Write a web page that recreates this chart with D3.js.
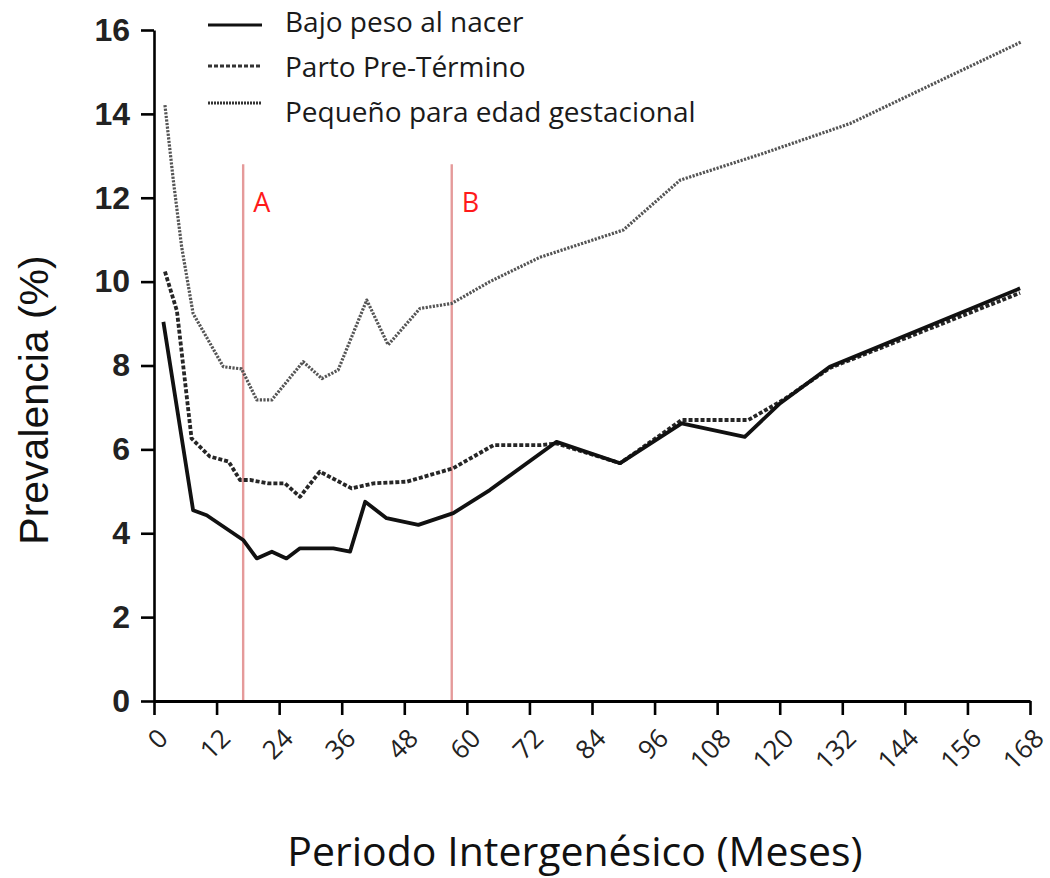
<!DOCTYPE html>
<html>
<head>
<meta charset="utf-8">
<script src="https://cdn.jsdelivr.net/npm/d3@7"></script>
<style>
  html, body { margin: 0; padding: 0; background: #fff; }
  svg { display: block; }
</style>
</head>
<body>
<svg id="chart" width="1050" height="878"></svg>
<script>
// ---- data ----
const xTicks = [0, 12, 24, 36, 48, 60, 72, 84, 96, 108, 120, 132, 144, 156, 168];
const yTicks = [0, 2, 4, 6, 8, 10, 12, 14, 16];

const seriesNames = ["Bajo peso al nacer", "Parto Pre-Término", "Pequeño para edad gestacional"];

const bajoPesoMonths = [1.8, 7.5, 10.1, 17.1, 19.7, 22.6, 25.4, 28.0, 34.4, 37.6, 40.5, 44.6, 50.7, 57.4, 64.4, 77.2, 89.4, 101.2, 113.3, 120.1, 129.6, 166.1];
const bajoPesoValues = [9.04, 4.55, 4.43, 3.84, 3.40, 3.56, 3.40, 3.64, 3.64, 3.56, 4.75, 4.36, 4.20, 4.48, 5.03, 6.18, 5.67, 6.62, 6.30, 7.10, 7.97, 9.84];

const pretermMonths = [2.1, 4.4, 7.2, 10.7, 14.3, 16.5, 18.4, 21.9, 25.1, 28.0, 31.8, 37.9, 42.1, 48.5, 57.4, 65.1, 74.0, 77.2, 89.4, 101.2, 114.0, 120.7, 129.6, 166.1];
const pretermValues = [10.24, 9.30, 6.26, 5.83, 5.71, 5.27, 5.27, 5.19, 5.19, 4.87, 5.47, 5.07, 5.19, 5.23, 5.55, 6.10, 6.10, 6.14, 5.67, 6.70, 6.70, 7.18, 7.94, 9.73];

const pegMonths = [2.1, 3.7, 5.3, 7.5, 13.3, 16.8, 19.7, 22.6, 28.6, 32.2, 35.3, 40.8, 44.9, 51.0, 57.1, 64.4, 74.0, 90.0, 100.9, 116.9, 133.5, 166.4];
const pegValues = [14.21, 12.42, 10.83, 9.24, 7.97, 7.92, 7.18, 7.18, 8.09, 7.69, 7.89, 9.56, 8.49, 9.36, 9.48, 10.00, 10.58, 11.23, 12.42, 13.06, 13.77, 15.72];

const markerLabels = ["A", "B"];
const markerMonths = [17.1, 57.1];

// ---- drawing ----
const svg = d3.select("#chart");
const x = d3.scaleLinear().domain([0, 168]).range([154, 1030]);
const y = d3.scaleLinear().domain([0, 16]).range([701, 30]);

const styles = [
  { stroke: "#111", width: 3.8, dash: null },
  { stroke: "#262626", width: 3.8, dash: "4,2" },
  { stroke: "#555", width: 3.2, dash: "2.2,1.4" }
];

// red reference lines
svg.append("g").selectAll("line").data(markerMonths).join("line")
  .attr("x1", d => x(d)).attr("x2", d => x(d))
  .attr("y1", y(12.8)).attr("y2", y(0))
  .attr("stroke", "#e59a9a").attr("stroke-width", 2.4);

svg.append("g").selectAll("text").data(markerLabels).join("text")
  .attr("x", (d, i) => x(markerMonths[i]) + 10)
  .attr("y", y(11.65))
  .attr("fill", "#ff1a1a")
  .attr("font-family", "'Open Sans', sans-serif")
  .attr("font-size", 27)
  .text(d => d);

// axes
const yAxis = svg.append("g").attr("transform", `translate(${x(0)},0)`)
  .call(d3.axisLeft(y).tickValues(yTicks).tickSize(13).tickSizeOuter(0).tickPadding(11));
yAxis.select(".domain").attr("stroke", "#000").attr("stroke-width", 2.6);
yAxis.selectAll(".tick line").attr("stroke", "#000").attr("stroke-width", 2.6);
yAxis.selectAll(".tick text")
  .attr("font-family", "'Liberation Sans', Arial, sans-serif")
  .attr("font-weight", "bold")
  .attr("font-size", 32)
  .attr("fill", "#222");

const xAxis = svg.append("g").attr("transform", `translate(0,${y(0)})`)
  .call(d3.axisBottom(x).tickValues(xTicks).tickSize(14).tickSizeOuter(0));
xAxis.select(".domain").attr("stroke", "#000").attr("stroke-width", 2.8);
xAxis.selectAll(".tick line").attr("stroke", "#000").attr("stroke-width", 2.6);
xAxis.selectAll(".tick text")
  .attr("x", 0).attr("y", 0).attr("dy", null)
  .attr("text-anchor", "end")
  .attr("transform", "translate(15,39) rotate(-45)")
  .attr("font-family", "'Open Sans', sans-serif")
  .attr("font-size", 26)
  .attr("fill", "#222");

// series lines
const seriesData = [
  d3.zip(bajoPesoMonths, bajoPesoValues),
  d3.zip(pretermMonths, pretermValues),
  d3.zip(pegMonths, pegValues)
];
const line = d3.line().x(d => x(d[0])).y(d => y(d[1]));

svg.append("g").selectAll("path").data([2, 1, 0]).join("path")
  .attr("d", i => line(seriesData[i]))
  .attr("fill", "none")
  .attr("stroke", i => styles[i].stroke)
  .attr("stroke-width", i => styles[i].width)
  .attr("stroke-dasharray", i => styles[i].dash)
  .attr("stroke-linejoin", "round");

// legend
const legendY = [25, 66, 103];
const legendTextY = [32, 77, 122];
const legend = svg.append("g");
legend.selectAll("line").data(seriesNames).join("line")
  .attr("x1", 208).attr("x2", 262)
  .attr("y1", (d, i) => legendY[i]).attr("y2", (d, i) => legendY[i])
  .attr("stroke", (d, i) => i === 0 ? "#111" : "#333")
  .attr("stroke-width", 3.2)
  .attr("stroke-dasharray", (d, i) => i === 0 ? null : (i === 1 ? "4,2" : "2,1"));
legend.selectAll("text").data(seriesNames).join("text")
  .attr("x", 285).attr("y", (d, i) => legendTextY[i])
  .attr("font-family", "'Open Sans', sans-serif")
  .attr("font-size", 28)
  .attr("fill", "#1a1a1a")
  .text(d => d);

// axis titles
svg.append("text")
  .attr("x", 575).attr("y", 866)
  .attr("text-anchor", "middle")
  .attr("font-family", "'Open Sans', sans-serif")
  .attr("font-size", 41)
  .attr("fill", "#111")
  .text("Periodo Intergenésico (Meses)");

svg.append("text")
  .attr("transform", "translate(48,400) rotate(-90)")
  .attr("text-anchor", "middle")
  .attr("font-family", "'Liberation Sans', Arial, sans-serif")
  .attr("font-size", 41)
  .attr("fill", "#111")
  .text("Prevalencia (%)");
</script>
</body>
</html>
